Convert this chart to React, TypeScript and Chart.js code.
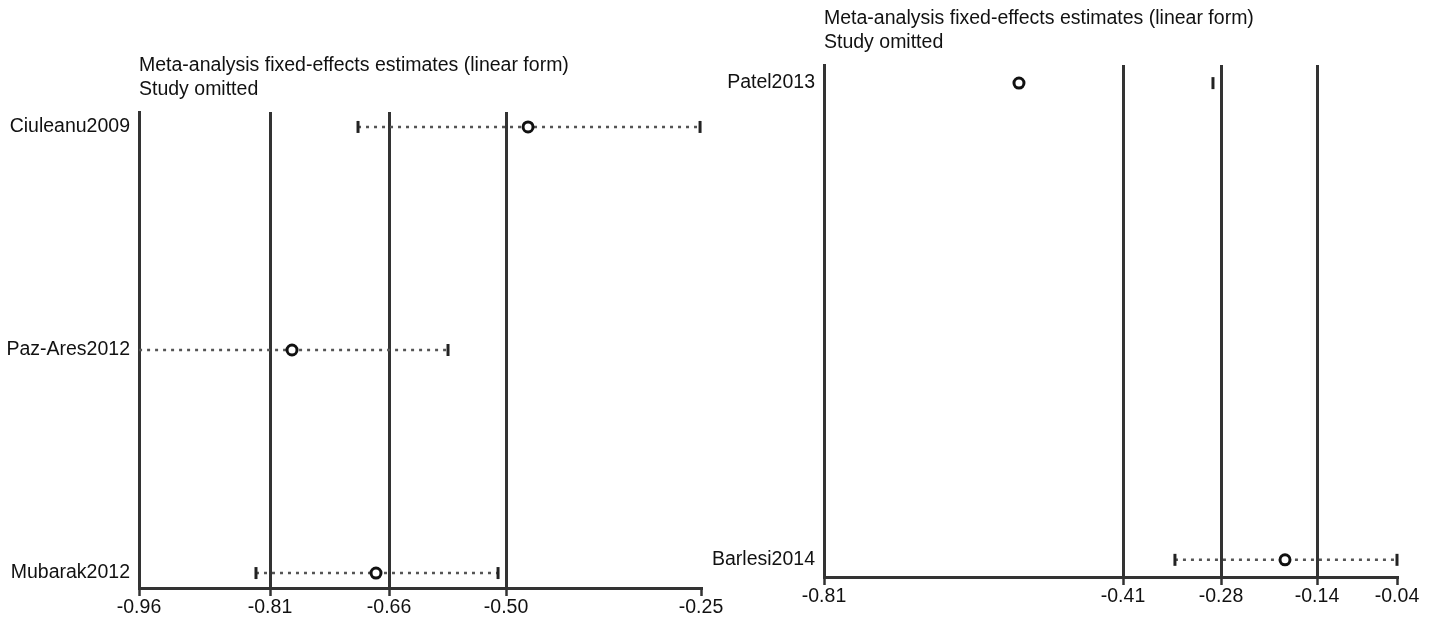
import React, { useEffect, useRef } from 'react';
import { Chart, registerables } from 'chart.js';

Chart.register(...registerables);

// ---------- data: left panel ----------
const leftStudies = ['Ciuleanu2009', 'Paz-Ares2012', 'Mubarak2012'];
const leftEstimate = [-0.4685, -0.7667, -0.6606];
const leftLower = [-0.6833, -0.97, -0.8122];
const leftUpper = [-0.2512, -0.5696, -0.5064];
const leftTickValues = [-0.96, -0.7945, -0.6441, -0.4963, -0.25];
const leftTickLabels = ['-0.96', '-0.81', '-0.66', '-0.50', '-0.25'];

// ---------- data: right panel ----------
const rightStudies = ['Patel2013', 'Barlesi2014'];
const rightEstimate = [-0.548, -0.1905];
const rightLower: (number | null)[] = [null, -0.3384];
const rightUpper = [-0.2873, -0.04];
const rightTickValues = [-0.81, -0.4082, -0.2765, -0.1475, -0.04];
const rightTickLabels = ['-0.81', '-0.41', '-0.28', '-0.14', '-0.04'];

const titleLines = ['Meta-analysis fixed-effects estimates (linear form)', 'Study omitted'];

const FONT = "'Liberation Sans', Arial, Helvetica, sans-serif";
const FONT_SIZE = 19.5;
const INK = '#111';
const LINE = '#333';

type PanelProps = {
  left: number;
  width: number;
  studies: string[];
  estimate: number[];
  lower: (number | null)[];
  upper: (number | null)[];
  xMin: number;
  xMax: number;
  tickValues: number[];
  tickLabels: string[];
  yMin: number;
  yMax: number;
  yAxisWidth: number;
  xAxisHeight: number;
  padRight: number;
  titleTop: number;
  titleBottom: number;
};

function Panel(p: PanelProps) {
  const ref = useRef<HTMLCanvasElement | null>(null);

  useEffect(() => {
    if (!ref.current) return;
    const datasets: any[] = [];
    datasets.push({
      label: 'estimate',
      data: p.estimate.map((x, i) => ({ x, y: i + 1 })),
      showLine: false,
      pointStyle: 'circle',
      pointRadius: 5,
      pointBorderWidth: 3,
      pointBorderColor: INK,
      pointBackgroundColor: '#fff',
      order: 0,
      clip: 6,
    });
    const capStyle = {
      showLine: false,
      pointStyle: 'line',
      pointRotation: 90,
      pointRadius: 6,
      pointBorderWidth: 3,
      pointBorderColor: '#222',
      order: 1,
      clip: 4,
    };
    datasets.push({
      label: 'lower',
      data: p.lower
        .map((x, i) => (x == null ? null : { x, y: i + 1 }))
        .filter((d) => d !== null),
      ...capStyle,
    });
    datasets.push({
      label: 'upper',
      data: p.upper
        .map((x, i) => (x == null ? null : { x, y: i + 1 }))
        .filter((d) => d !== null),
      ...capStyle,
    });
    p.studies.forEach((s, i) => {
      const lo = p.lower[i];
      const hi = p.upper[i];
      if (lo == null || hi == null) return;
      datasets.push({
        label: s,
        data: [
          { x: lo, y: i + 1 },
          { x: hi, y: i + 1 },
        ],
        showLine: true,
        borderDash: [3, 5],
        borderWidth: 2.5,
        borderColor: '#555',
        borderCapStyle: 'butt',
        pointRadius: 0,
        order: 2,
        clip: 0,
      });
    });

    const last = p.tickValues.length - 1;
    const chart = new Chart(ref.current, {
      type: 'scatter',
      data: { datasets },
      options: {
        responsive: false,
        animation: false,
        devicePixelRatio: 1,
        layout: { padding: { left: 0, right: p.padRight, top: 0, bottom: 0 } },
        plugins: {
          legend: { display: false },
          tooltip: { enabled: false },
          title: {
            display: true,
            text: titleLines,
            align: 'start',
            fullSize: false,
            color: INK,
            font: { family: FONT, size: FONT_SIZE, weight: 'normal', lineHeight: 24 / FONT_SIZE },
            padding: { top: p.titleTop, bottom: p.titleBottom },
          },
        },
        scales: {
          x: {
            type: 'linear',
            min: p.xMin,
            max: p.xMax,
            afterBuildTicks: (s: any) => {
              s.ticks = p.tickValues.map((v) => ({ value: v }));
            },
            afterFit: (s: any) => {
              s.height = p.xAxisHeight;
            },
            ticks: {
              autoSkip: false,
              maxRotation: 0,
              padding: 0,
              color: INK,
              font: { family: FONT, size: FONT_SIZE },
              callback: (_v: any, i: number) => p.tickLabels[i],
            },
            grid: {
              drawOnChartArea: true,
              color: (ctx: any) => (ctx.index === 0 || ctx.index === last ? 'rgba(0,0,0,0)' : LINE),
              lineWidth: 3,
              tickColor: LINE,
              tickWidth: 2.5,
              tickLength: 8,
            },
            border: { display: true, color: LINE, width: 3 },
          },
          y: {
            type: 'linear',
            reverse: true,
            min: p.yMin,
            max: p.yMax,
            afterBuildTicks: (s: any) => {
              s.ticks = p.studies.map((_, i) => ({ value: i + 1 }));
            },
            afterFit: (s: any) => {
              s.width = p.yAxisWidth;
            },
            ticks: {
              autoSkip: false,
              padding: 9,
              color: INK,
              font: { family: FONT, size: FONT_SIZE },
              callback: (_v: any, i: number) => p.studies[i],
            },
            grid: { display: false, drawTicks: false },
            border: { display: true, color: LINE, width: 3 },
          },
        },
      } as any,
    });
    return () => chart.destroy();
  }, []);

  return (
    <canvas
      ref={ref}
      width={p.width}
      height={619}
      style={{ position: 'absolute', left: p.left, top: 0, width: p.width, height: 619 }}
    />
  );
}

export default function App() {
  return (
    <div style={{ position: 'absolute', left: 0, top: 0, width: 1440, height: 619, background: '#fff', overflow: 'hidden' }}>
      <Panel
        left={0}
        width={730}
        studies={leftStudies}
        estimate={leftEstimate}
        lower={leftLower}
        upper={leftUpper}
        xMin={-0.96}
        xMax={-0.25}
        tickValues={leftTickValues}
        tickLabels={leftTickLabels}
        yMin={0.933}
        yMax={3.067}
        yAxisWidth={139}
        xAxisHeight={31}
        padRight={29}
        titleTop={54}
        titleBottom={10}
      />
      <Panel
        left={700}
        width={740}
        studies={rightStudies}
        estimate={rightEstimate}
        lower={rightLower}
        upper={rightUpper}
        xMin={-0.81}
        xMax={-0.04}
        tickValues={rightTickValues}
        tickLabels={rightTickLabels}
        yMin={0.962}
        yMax={2.036}
        yAxisWidth={124}
        xAxisHeight={42}
        padRight={43}
        titleTop={7}
        titleBottom={10}
      />
    </div>
  );
}
